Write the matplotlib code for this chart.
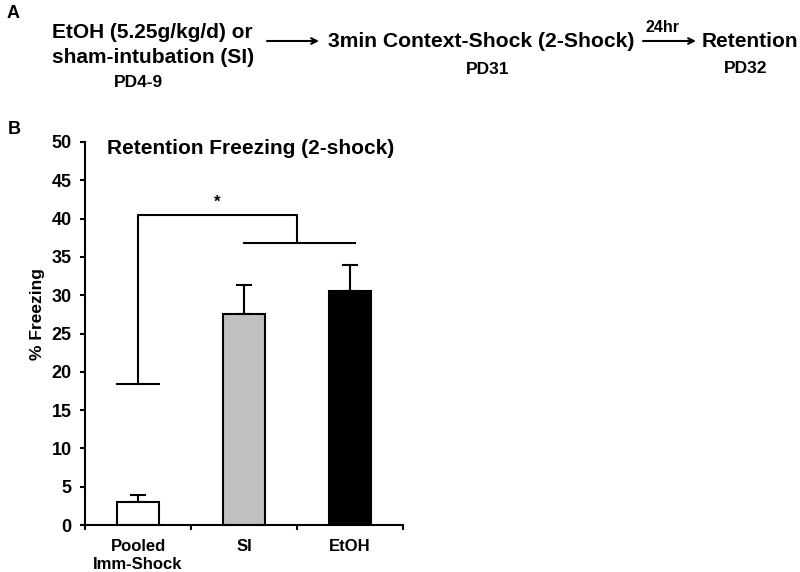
import matplotlib.pyplot as plt
import numpy as np

plt.rcParams['font.family'] = ['Liberation Sans', 'DejaVu Sans']
plt.rcParams['font.weight'] = 'bold'

# data
groups = ['Pooled\nImm-Shock', 'SI', 'EtOH']
freezing = [3.0, 27.5, 30.5]
sem = [0.9, 3.8, 3.5]
colors = ['white', '#c0c0c0', 'black']

# significance bracket levels
br_low = 18.4
br_top = 40.5
br_pair = 36.8

W, H = 800, 572
fig = plt.figure(figsize=(W / 100, H / 100), dpi=100)


def fy(py):
    # pixel row -> figure fraction
    return 1 - py / H


# panel A: timeline
fig.text(0.008, fy(13), 'A', fontsize=13, fontweight='bold', va='center')
fig.text(52 / W, fy(38), 'EtOH (5.25g/kg/d) or', fontsize=15, fontweight='bold', va='baseline')
fig.text(52 / W, fy(63), 'sham-intubation (SI)', fontsize=15, fontweight='bold', va='baseline')
fig.text(138 / W, fy(87), 'PD4-9', fontsize=12.5, fontweight='bold', va='baseline', ha='center')
fig.text(328 / W, fy(47), '3min Context-Shock (2-Shock)', fontsize=15.2, fontweight='bold', va='baseline')
fig.text(488 / W, fy(74), 'PD31', fontsize=12.5, fontweight='bold', va='baseline', ha='center')
fig.text(702 / W, fy(47), 'Retention', fontsize=15, fontweight='bold', va='baseline')
fig.text(746 / W, fy(73), 'PD32', fontsize=12.5, fontweight='bold', va='baseline', ha='center')
fig.text(662 / W, fy(32), '24hr', fontsize=11.5, fontweight='bold', va='baseline', ha='center')
for x0, x1 in [(267, 319), (643, 696)]:
    fig.add_artist(plt.Annotation('', xy=(x1 / W, fy(41)), xytext=(x0 / W, fy(41)),
                                  xycoords='figure fraction',
                                  arrowprops=dict(arrowstyle='->', lw=1.5, color='black',
                                                  shrinkA=0, shrinkB=0)))

# panel B
fig.text(0.010, fy(129), 'B', fontsize=13, fontweight='bold', va='center')
ax = fig.add_axes([85 / W, 1 - 525 / H, 318 / W, 383 / H])

x = np.arange(len(groups)) + 0.5
ax.bar(x, freezing, width=0.4, color=colors, edgecolor='black', linewidth=1.5, zorder=2)
ax.errorbar(x, freezing, yerr=[np.zeros(len(sem)), sem], fmt='none', ecolor='black',
            elinewidth=1.5, capsize=5.5, capthick=1.5, zorder=1)

ax.set_xlim(0, 3)
ax.set_ylim(0, 50)
ax.set_yticks(np.arange(0, 51, 5))
ax.set_xticks([0, 1, 2, 3])
ax.set_xticklabels([])
ax.set_xticks(x, minor=True)
ax.set_xticklabels(groups, minor=True, fontsize=12, fontweight='bold', linespacing=1.25)
ax.tick_params(axis='x', which='minor', length=0, pad=10)
ax.tick_params(axis='x', which='major', direction='out', length=3.6, width=1.5)
ax.tick_params(axis='y', direction='out', length=3.6, width=1.5, labelsize=13, pad=6)
for lbl in ax.get_yticklabels():
    lbl.set_fontweight('bold')
for s in ['top', 'right']:
    ax.spines[s].set_visible(False)
for s in ['left', 'bottom']:
    ax.spines[s].set_linewidth(1.5)

ax.set_ylabel('% Freezing', fontsize=12.5, fontweight='bold')
ax.yaxis.set_label_coords(-0.126, 0.55)
ax.text(0.21, 49.2, 'Retention Freezing (2-shock)', fontsize=15, fontweight='bold', va='center')

# bracket
lw = 1.5
ax.plot([x[0] - 0.2, x[0] + 0.2], [br_low, br_low], color='black', lw=lw)
ax.plot([x[0], x[0], 2.0, 2.0], [br_low, br_top, br_top, br_pair], color='black', lw=lw)
ax.plot([1.5, 2.55], [br_pair, br_pair], color='black', lw=lw)
ax.text(1.245, br_top + 0.6, '*', fontsize=12, fontweight='bold', ha='center', va='bottom')

fig.savefig('out.png', dpi=100)
